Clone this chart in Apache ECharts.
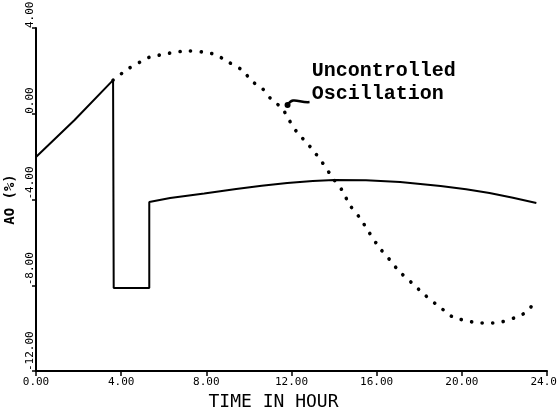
<!DOCTYPE html>
<html><head><meta charset="utf-8">
<script src="https://cdn.jsdelivr.net/npm/echarts@6/dist/echarts.min.js"></script>
<style>html,body{margin:0;padding:0;background:#fff}#c{width:557px;height:414px}</style>
</head><body><div id="c"></div>
<script>
// Axis ranges / ticks
const xMin = 0, xMax = 24, xStep = 4;
const yMin = -12, yMax = 4, yStep = 4;

// Controlled response (solid line): time in hours, AO (%)
const controlledTime = [0, 1.8, 3.62, 3.65, 5.32, 5.32, 6.3, 7.9, 9.4, 10.6, 11.8, 13.0, 14.0, 15.5, 17.1, 19.0, 20.2, 21.3, 22.4, 23.5];
const controlledAO   = [-2.02, -0.30, 1.57, -8.13, -8.13, -4.12, -3.93, -3.72, -3.51, -3.36, -3.23, -3.14, -3.09, -3.10, -3.18, -3.37, -3.52, -3.70, -3.92, -4.16];

// Uncontrolled oscillation (dotted line)
const uncontrolledTime = [3.62, 4.32, 4.88, 5.35, 5.82, 6.29, 7.09, 7.84, 8.31, 8.73, 9.11, 9.67, 10.19, 10.61, 11.08, 11.55, 11.83, 12.25, 12.72, 13.0, 13.43, 13.94, 14.37, 14.74, 15.21, 15.63, 16.10, 16.62, 17.04, 17.65, 18.26, 18.83, 19.20, 19.58, 20.47, 20.94, 21.41, 21.88, 22.58, 22.96, 23.33];
const uncontrolledAO   = [1.57, 2.09, 2.41, 2.65, 2.74, 2.83, 2.93, 2.88, 2.79, 2.60, 2.37, 2.04, 1.48, 1.20, 0.64, 0.27, -0.20, -0.85, -1.36, -1.69, -2.25, -3.00, -3.56, -4.26, -4.86, -5.51, -6.21, -6.82, -7.33, -7.89, -8.45, -8.92, -9.20, -9.48, -9.71, -9.76, -9.76, -9.71, -9.48, -9.29, -8.92];

// Texts
const xTitle = 'TIME IN HOUR';
const yTitle = 'AO (%)';
const annotationLines = ['Uncontrolled', 'Oscillation'];
const annotationTextAt = [12.95, 2.45];   // data coords of text top-left
const annotationArrowAt = [11.72, 0.45];  // data coords of arrow blob

const pair = (xs, ys) => xs.map((x, i) => [x, ys[i]]);
const mono = '"DejaVu Sans Mono", monospace';

const chart = echarts.init(document.getElementById('c'), null, {renderer: 'canvas'});
chart.setOption({
  backgroundColor: '#fff',
  animation: false,
  grid: {left: 36, right: 10, top: 28, bottom: 43, outerBoundsMode: 'none', containLabel: false},
  xAxis: {
    type: 'value', min: xMin, max: xMax, interval: xStep,
    name: xTitle, nameLocation: 'middle', nameGap: 21,
    nameTextStyle: {fontFamily: mono, fontSize: 18, color: '#000', padding: [0, 36, 0, 0]},
    axisLine: {show: true, onZero: false, lineStyle: {color: '#000', width: 2}},
    axisTick: {show: true, length: 5, lineStyle: {color: '#000', width: 1.5}},
    axisLabel: {fontFamily: mono, fontSize: 11, color: '#000', margin: 6, formatter: v => v.toFixed(2), showMaxLabel: true, showMinLabel: true},
    splitLine: {show: false}
  },
  yAxis: {
    type: 'value', min: yMin, max: yMax, interval: yStep,
    name: yTitle, nameLocation: 'middle', nameGap: 19, nameRotate: 90,
    nameTextStyle: {fontFamily: mono, fontSize: 14, fontWeight: 'bold', color: '#000'},
    axisLine: {show: true, onZero: false, lineStyle: {color: '#000', width: 2}},
    axisTick: {show: true, length: 4, lineStyle: {color: '#000', width: 1.5}},
    axisLabel: {fontFamily: mono, fontSize: 11, color: '#000', margin: 0, rotate: 90, align: 'left', verticalAlign: 'bottom', formatter: v => v.toFixed(2), showMaxLabel: true, showMinLabel: true},
    splitLine: {show: false}
  },
  series: [
    {
      type: 'line', name: 'Controlled', data: pair(controlledTime, controlledAO),
      symbol: 'none', smooth: false,
      lineStyle: {color: '#000', width: 2}
    },
    {
      type: 'line', name: 'Uncontrolled', data: pair(uncontrolledTime, uncontrolledAO),
      symbol: 'none', smooth: 0.3,
      lineStyle: {color: '#000', width: 3.6, type: [0.1, 10.5], cap: 'round'}
    }
  ]
});

const tp = chart.convertToPixel({gridIndex: 0}, annotationTextAt);
const ap = chart.convertToPixel({gridIndex: 0}, annotationArrowAt);
chart.setOption({
  graphic: [
    {type: 'text', x: tp[0], y: tp[1], style: {text: annotationLines[0], font: 'bold 20px "Liberation Mono"', fill: '#000', textVerticalAlign: 'top'}},
    {type: 'text', x: tp[0], y: tp[1] + 23, style: {text: annotationLines[1], font: 'bold 20px "Liberation Mono"', fill: '#000', textVerticalAlign: 'top'}},
    {type: 'circle', shape: {cx: ap[0] + 2, cy: ap[1] + 1, r: 3}, style: {fill: '#000'}},
    {type: 'bezierCurve', shape: {x1: ap[0] + 2, y1: ap[1] + 1, cpx1: ap[0] + 7, cpy1: ap[1] - 8, cpx2: ap[0] + 14, cpy2: ap[1] - 1, x2: ap[0] + 24, y2: ap[1] - 2}, style: {stroke: '#000', lineWidth: 2.5, fill: 'none'}}
  ]
});
</script>
</body></html>
